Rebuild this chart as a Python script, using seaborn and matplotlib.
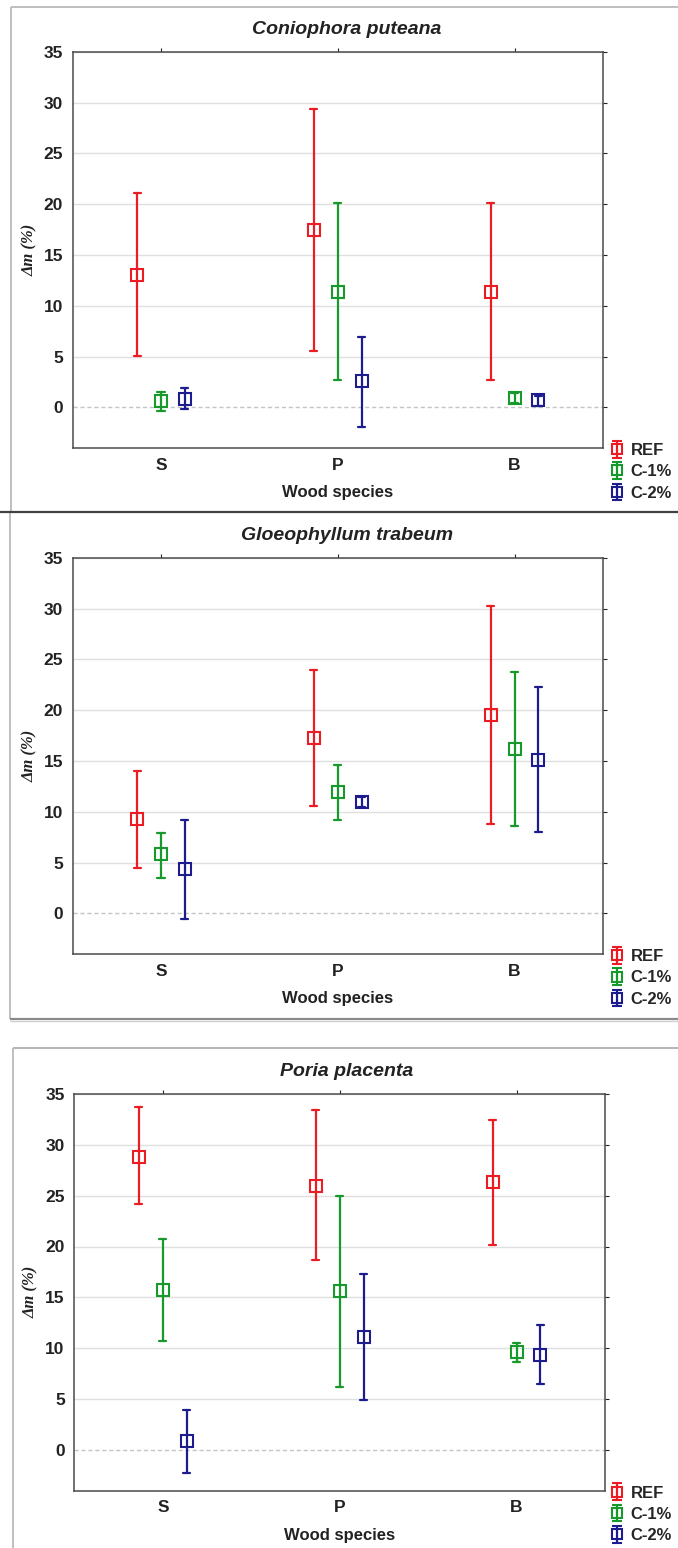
import numpy as np
import pandas as pd
import matplotlib
matplotlib.use("Agg")
import matplotlib.pyplot as plt
import seaborn as sns
from matplotlib.lines import Line2D

# ---- data -------------------------------------------------------------
species = ["S", "P", "B"]
treatments = ["REF", "C-1%", "C-2%"]
fungi = ["Coniophora puteana", "Gloeophyllum trabeum", "Poria placenta"]

# mass loss (%), rows = REF, C-1%, C-2%; columns = S, P, B
cp_mean = [[13.0, 17.45, 11.4], [0.6, 11.4, 0.9], [0.85, 2.55, 0.72]]
cp_low = [[5.05, 5.5, 2.7], [-0.33, 2.7, 0.4], [-0.2, -1.97, 0.15]]
cp_high = [[21.1, 29.35, 20.07], [1.54, 20.07, 1.4], [1.87, 6.9, 1.1]]

gt_mean = [[9.3, 17.3, 19.5], [5.8, 11.9, 16.2], [4.4, 11.0, 15.1]]
gt_low = [[4.42, 10.6, 8.84], [3.5, 9.14, 8.64], [-0.52, 10.45, 8.02]]
gt_high = [[13.98, 23.97, 30.2], [7.9, 14.64, 23.74], [9.23, 11.46, 22.23]]

pp_mean = [[28.85, 26.0, 26.3], [15.7, 15.6, 9.6], [0.85, 11.1, 9.3]]
pp_low = [[24.15, 18.7, 20.19], [10.72, 6.19, 8.62], [-2.3, 4.9, 6.43]]
pp_high = [[33.75, 33.38, 32.4], [20.7, 24.92, 10.55], [3.89, 17.25, 12.28]]

panels = [(cp_mean, cp_low, cp_high), (gt_mean, gt_low, gt_high), (pp_mean, pp_low, pp_high)]

colors = ["#ec1c24", "#17992b", "#1c1c8f"]


def long_table(mean, low, high):
    rows = []
    for ti, t in enumerate(treatments):
        for si, s in enumerate(species):
            for v in (low[ti][si], mean[ti][si], high[ti][si]):
                rows.append({"species": s, "treatment": t, "value": v})
    return pd.DataFrame(rows)


# ---- style ------------------------------------------------------------
sns.set_theme(style="white")
plt.rcParams["font.family"] = ["Liberation Sans", "DejaVu Sans"]
plt.rcParams["font.weight"] = "bold"
plt.rcParams["axes.labelweight"] = "bold"

W, H = 678, 1548
fig = plt.figure(figsize=(W / 100, H / 100), dpi=100)
fig.patch.set_facecolor("white")


def fx(x):
    return x / W


def fy(y):
    return 1 - y / H


def hline(x0, x1, y, color, lw):
    fig.add_artist(Line2D([fx(x0), fx(x1)], [fy(y), fy(y)], transform=fig.transFigure,
                          color=color, lw=lw, solid_capstyle="butt"))


def vline(x, y0, y1, color, lw):
    fig.add_artist(Line2D([fx(x), fx(x)], [fy(y0), fy(y1)], transform=fig.transFigure,
                          color=color, lw=lw, solid_capstyle="butt"))


# panel frames
hline(11, W, 7, "#b4b4b4", 1.2)
vline(11, 7, 512, "#b4b4b4", 1.2)
vline(10, 512, 1019, "#b4b4b4", 1.2)
hline(0, W, 512, "#404040", 1.6)
hline(10, W, 1019, "#8a8a8a", 1.6)
hline(10, W, 1021, "#d0d0d0", 1.0)
hline(13, W, 1048, "#a8a8a8", 1.2)
vline(13, 1048, H, "#b4b4b4", 1.2)

# axes boxes in pixel coordinates: left, right, top, bottom
boxes = [(72.6, 603, 51.7, 448), (72.6, 603, 557.7, 954), (74.4, 605, 1094, 1490.5)]
title_y = [29, 535, 1072]

for (mean, low, high), (l, r, t, b), name, ty in zip(panels, boxes, fungi, title_y):
    ax = fig.add_axes([fx(l), fy(b), (r - l) / W, (b - t) / H])
    df = long_table(mean, low, high)
    sns.pointplot(data=df, x="species", y="value", hue="treatment",
                  order=species, hue_order=treatments, palette=colors,
                  estimator="median", errorbar=lambda v: (v.min(), v.max()),
                  dodge=0.27, marker="s", linestyle="none", capsize=0.04,
                  markersize=8.5, markeredgewidth=1.5, markerfacecolor="none",
                  err_kws={"linewidth": 1.6}, legend=False, ax=ax)

    ax.set_xlim(-0.5, 2.5)
    ax.set_ylim(-4, 35)
    ax.set_yticks(range(0, 36, 5))
    ax.yaxis.grid(True, color="#e0e0e0", lw=1.0)
    ax.yaxis.get_gridlines()[0].set_linestyle((0, (3, 2)))
    ax.yaxis.get_gridlines()[0].set_color("#c4c4c4")
    ax.set_axisbelow(True)
    for sp in ax.spines.values():
        sp.set_color("#4a4a4a")
        sp.set_linewidth(1.1)
    ax.tick_params(axis="both", labelsize=12.5, colors="#222222", length=3, width=0.8,
                   direction="out", pad=4)
    ax.tick_params(axis="x", top=True, labeltop=False)
    ax.tick_params(axis="y", right=True, labelright=False)

    ax.set_xlabel("Wood species", fontsize=12, fontweight="bold", color="#222222", labelpad=9)
    ax.set_ylabel("Δm (%)", fontsize=12, fontfamily=["Liberation Serif", "DejaVu Serif"],
                  fontstyle="italic", fontweight="bold", color="#222222")
    ax.yaxis.set_label_coords(-0.066, 0.5)

    fig.text(fx(347), fy(ty), name, ha="center", va="center", fontsize=14,
             fontweight="bold", fontstyle="italic", color="#222222")

    # legend handles with error-bar glyphs
    handles = []
    for c, lab in zip(colors, treatments):
        h = ax.errorbar([np.nan], [np.nan], yerr=[[1.0], [1.0]], fmt="s", color=c, ecolor=c,
                        mfc="none", mec=c, ms=7, mew=1.5, elinewidth=1.6, capsize=3.5,
                        capthick=1.6, label=lab)
        handles.append(h)
    ax.legend(handles, treatments, loc="upper left",
              bbox_to_anchor=(fx(609), fy(b - 5)), bbox_transform=fig.transFigure,
              frameon=False, fontsize=12, handlelength=0.9, handletextpad=0.4,
              labelspacing=0.38, borderpad=0, borderaxespad=0, numpoints=1)

fig.savefig("out.png", dpi=100, facecolor="white")
